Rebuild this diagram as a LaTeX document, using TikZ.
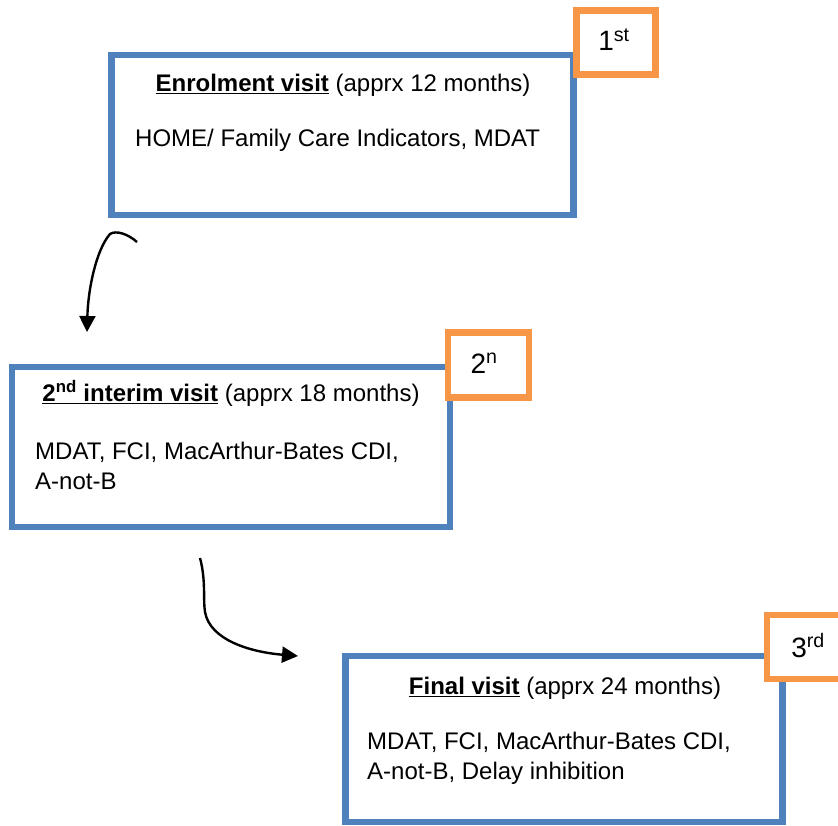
\documentclass[tikz,border=0pt]{standalone}
\usepackage{fontspec}
\setmainfont{Liberation Sans}
\usetikzlibrary{arrows.meta}
\definecolor{visitblue}{HTML}{4F81BD}
\definecolor{rankorange}{HTML}{F79646}

\begin{document}
\begin{tikzpicture}[x=1pt,y=-1pt,font=\fontsize{24}{30}\selectfont,
  visit/.style={draw=visitblue,line width=6.3pt,inner sep=0pt},
  rank/.style={draw=rankorange,line width=6.5pt,fill=white,inner sep=0pt},
  ranklbl/.style={anchor=base,inner sep=0pt,font=\fontsize{28}{34}\selectfont},
  title/.style={anchor=base,inner sep=0pt},
  body/.style={anchor=north west,align=left,inner sep=0pt},
  flow/.style={-{Triangle[length=16pt,width=16pt]},line width=2.4pt}]
\useasboundingbox (0,0) rectangle (838,826);
% visit boxes
\node[visit,minimum width=462pt,minimum height=160pt] (enrol) at (342.6,135) {};
\node[visit,minimum width=438pt,minimum height=160pt] (interim) at (230.7,447) {};
\node[visit,minimum width=437pt,minimum height=166pt] (final) at (564,739) {};
% order tags
\node[rank,minimum width=79pt,minimum height=64pt] (first) at (616,42.5) {};
\node[rank,minimum width=81pt,minimum height=65pt] (second) at (488.7,365) {};
\node[rank,minimum width=75pt,minimum height=64pt] (third) at (804.6,647) {};
\node[ranklbl] (firstlbl) at (614,51) {1\textsuperscript{st}};
\node[ranklbl] (secondlbl) at (484,373) {2\textsuperscript{n}};
\node[ranklbl] (thirdlbl) at (808,657) {3\textsuperscript{rd}};
% texts
\node[title] (enroltitle) at (343,91.5) {\underline{\textbf{Enrolment visit}} (apprx 12 months)};
\node[anchor=base west,inner sep=0pt] (enrolbody) at (135,146.5) {HOME/ Family Care Indicators, MDAT};
\node[title] (interimtitle) at (231,401.5) {\underline{\textbf{2\textsuperscript{nd} interim visit}} (apprx 18 months)};
\node[body] (interimbody) at (35,441.5) {MDAT, FCI, MacArthur-Bates CDI,\\A-not-B};
\node[title] (finaltitle) at (565,694.5) {\underline{\textbf{Final visit}} (apprx 24 months)};
\node[body] (finalbody) at (367,731.5) {MDAT, FCI, MacArthur-Bates CDI,\\A-not-B, Delay inhibition};
% arrows
\coordinate (go1) at (137,242);
\coordinate (bend1) at (110,234);
\coordinate (to1) at (87,332);
\coordinate (go2) at (200,558);
\coordinate (bend2) at (205,612);
\coordinate (to2) at (298,656);
\draw[flow] (go1) .. controls (128,234) and (116,230) .. (bend1)
  .. controls (96,250) and (88,290) .. (to1);
\draw[flow] (go2) .. controls (206,580) and (203,600) .. (bend2)
  .. controls (210,640) and (250,652) .. (to2);
\end{tikzpicture}
\end{document}
